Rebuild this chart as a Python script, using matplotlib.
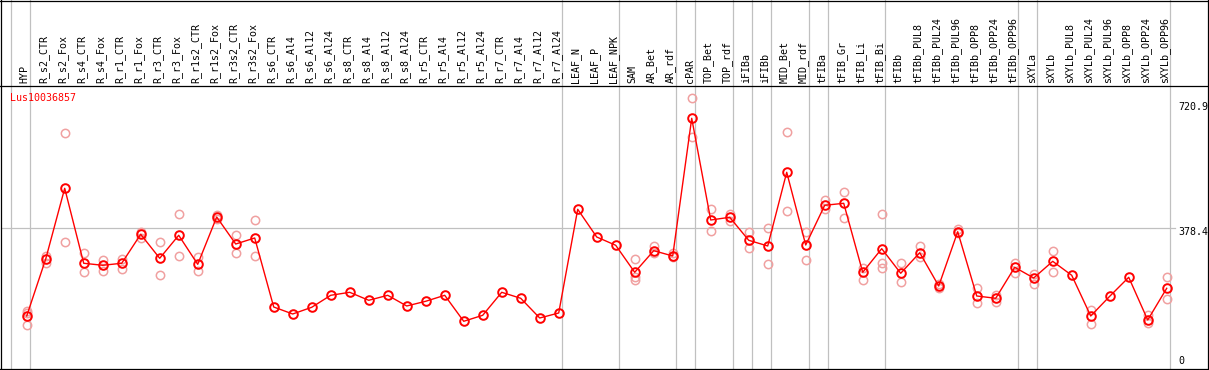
import matplotlib
matplotlib.use("Agg")
import matplotlib.pyplot as plt
import numpy as np
from matplotlib.lines import Line2D

# categories along the x axis
samples = ['HYP', 'R_s2_CTR', 'R_s2_Fox', 'R_s4_CTR', 'R_s4_Fox', 'R_r1_CTR', 'R_r1_Fox',
           'R_r3_CTR', 'R_r3_Fox', 'R_r1s2_CTR', 'R_r1s2_Fox', 'R_r3s2_CTR', 'R_r3s2_Fox',
           'R_s6_CTR', 'R_s6_Al4', 'R_s6_Al12', 'R_s6_Al24', 'R_s8_CTR', 'R_s8_Al4',
           'R_s8_Al12', 'R_s8_Al24', 'R_r5_CTR', 'R_r5_Al4', 'R_r5_Al12', 'R_r5_Al24',
           'R_r7_CTR', 'R_r7_Al4', 'R_r7_Al12', 'R_r7_Al24', 'LEAF_N', 'LEAF_P', 'LEAF_NPK',
           'SAM', 'AR_Bet', 'AR_rdf', 'cPAR', 'TOP_Bet', 'TOP_rdf', 'iFIBa', 'iFIBb',
           'MID_Bet', 'MID_rdf', 'tFIBa', 'tFIB_Gr', 'tFIB_Li', 'tFIB_Bi', 'tFIBb',
           'tFIBb_PUL8', 'tFIBb_PUL24', 'tFIBb_PUL96', 'tFIBb_OPP8', 'tFIBb_OPP24',
           'tFIBb_OPP96', 'sXYLa', 'sXYLb', 'sXYLb_PUL8', 'sXYLb_PUL24', 'sXYLb_PUL96',
           'sXYLb_OPP8', 'sXYLb_OPP24', 'sXYLb_OPP96']

# mean expression per sample
mean_expr = [138.1, 294.2, 487.9, 282.5, 277.0, 282.5, 361.9, 296.2, 359.2, 279.7,
             409.3, 335.3, 351.8, 162.7, 143.6, 161.9, 194.8, 203.0, 181.1, 194.8,
             165.5, 178.4, 194.8, 123.6, 140.0, 203.0, 186.6, 132.6, 146.3, 430.4,
             354.5, 331.8, 257.8, 317.0, 302.5, 679.7, 401.1, 408.5, 345.5, 329.9,
             531.8, 332.6, 441.4, 446.8, 257.8, 322.5, 255.1, 311.5, 220.3, 369.0,
             192.9, 186.6, 271.5, 242.2, 287.9, 249.6, 138.1, 192.1, 244.1, 127.1,
             214.0]

# individual replicates (index of sample, value)
rep_idx = [0, 0, 0, 1, 1, 2, 2, 3, 3, 4, 4, 5, 5, 6, 6, 7, 7, 8, 8, 9, 9, 10, 10,
           11, 11, 12, 12, 32, 32, 32, 33, 33, 34, 34, 35, 35, 36, 36, 37, 37, 38, 38,
           39, 39, 40, 40, 41, 41, 42, 42, 43, 43, 44, 44, 45, 45, 45, 46, 46, 47, 47,
           48, 48, 49, 49, 50, 50, 51, 51, 52, 52, 53, 53, 54, 54, 56, 56, 59, 59, 60, 60]
rep_val = [151.8, 112.2, 146.3, 303.3, 282.5, 638.6, 340.0, 309.9, 257.8, 291.5, 262.2,
           295.1, 267.7, 369.0, 352.6, 340.0, 250.4, 416.7, 302.5, 299.7, 260.5, 414.8,
           403.8, 359.2, 309.9, 400.3, 302.5, 293.4, 245.8, 236.7, 330.7, 309.9, 309.9,
           299.7, 734.5, 627.7, 431.2, 371.0, 416.7, 399.2, 367.4, 323.6, 378.4, 280.5,
           641.4, 425.8, 369.0, 290.7, 455.9, 432.1, 477.0, 406.6, 270.4, 235.9, 416.7,
           282.5, 270.4, 282.5, 230.4, 329.9, 298.9, 225.8, 214.8, 375.6, 365.5, 214.0,
           172.9, 196.4, 176.4, 282.5, 256.7, 253.2, 226.6, 316.2, 257.8, 154.5, 117.0,
           140.8, 118.1, 244.1, 183.8]

# group separators (after these sample indices)
separators = [-1, 0, 28, 31, 34, 35, 37, 38, 39, 41, 42, 45, 52, 53, 60]
ref_level = 378.4
y_labels = ['720.9', '378.4', '0']
gene_id = 'Lus10036857'

W, H = 1209, 370
fig = plt.figure(figsize=(W / 100, H / 100), dpi=100)
plt.rcParams['font.family'] = 'DejaVu Sans Mono'

ax = fig.add_axes([1 / W, 1 - 368 / H, 1206 / W, 282 / H])
ax.set_xlim(-1.353, 62.12)
ax.set_ylim(-4.4, 768.2)
ax.set_xticks([])
ax.set_yticks([])
for s in ax.spines.values():
    s.set_visible(False)

grey = '#c0c0c0'
for sep in separators:
    ax.axvline(sep + 0.19, ymin=0, ymax=368 / 282, color=grey, lw=0.9, clip_on=False, zorder=1)
ax.plot([-1.353, 60.45], [ref_level, ref_level], color=grey, lw=0.9, zorder=1)

x = np.arange(len(samples))
ax.plot(rep_idx, rep_val, 'o', mfc='none', mec='#f0a0a0', ms=6, mew=1.1, zorder=2)
ax.plot(x, mean_expr, '-', color='red', lw=1, zorder=3)
ax.plot(x, mean_expr, 'o', mfc='none', mec='red', ms=6.2, mew=1.4, zorder=4)

for i, lab in enumerate(samples):
    ax.annotate(lab, xy=(i, 1), xycoords=ax.get_xaxis_transform(),
                xytext=(-1.5, 2.2), textcoords='offset points',
                rotation=90, ha='center', va='bottom', fontsize=7.2, color='black')

# frame lines
k = dict(color='black', lw=0.9)
fig.add_artist(Line2D([0, 1], [1 - 85.7 / H, 1 - 85.7 / H], **k))
fig.add_artist(Line2D([1.2 / W, 1.2 / W], [1 - 369 / H, 1], **k))
fig.add_artist(Line2D([1207.5 / W, 1207.5 / W], [1 - 369 / H, 1], **k))
fig.add_artist(Line2D([0, 1], [1 - 0.5 / H, 1 - 0.5 / H], **k))
fig.add_artist(Line2D([0, 1], [1 - 368.7 / H, 1 - 368.7 / H], **k))

fig.text(10 / W, 1 - 97.7 / H, gene_id, color='red', fontsize=7.2, va='center', ha='left')
for lab, py in zip(y_labels, [107, 232, 361]):
    fig.text(1178.5 / W, 1 - py / H, lab, color='black', fontsize=7.2, va='center', ha='left')

fig.savefig('out.png', dpi=100)
